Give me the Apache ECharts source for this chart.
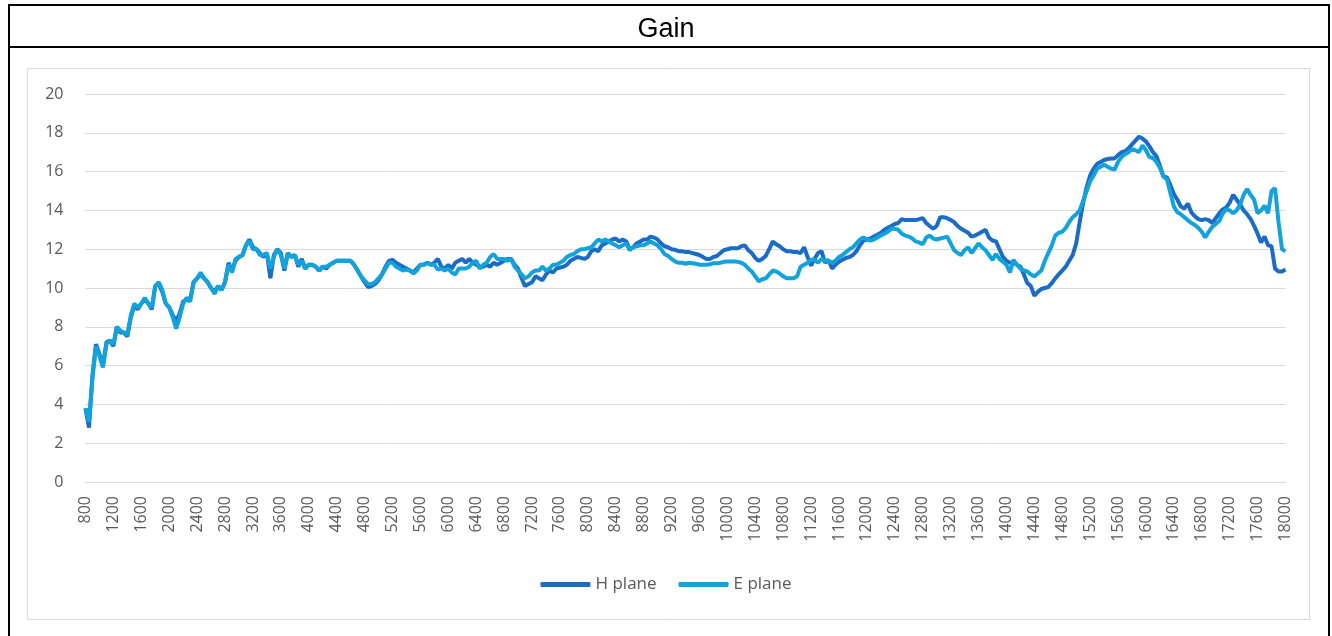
<!DOCTYPE html>
<html>
<head>
<meta charset="utf-8">
<script src="https://cdn.jsdelivr.net/npm/echarts@6/dist/echarts.min.js"></script>
<style>
html,body{margin:0;padding:0;background:#fff;}
#c{width:1332px;height:636px;}
</style>
</head>
<body>
<div id="c"></div>
<script>
// Frequency categories (MHz), 50 MHz step from 800 to 18000
const freqStart = 800, freqEnd = 18000, freqStep = 50;
const categories = [];
for (let f = freqStart; f <= freqEnd; f += freqStep) categories.push(String(f));

const seriesNames = ['H plane', 'E plane'];
const titleText = 'Gain';

// H plane gain (dBi), one row per 1000 MHz starting at 800, 1800, ...
const hPlane = [
  3.8, 2.8, 5.5, 7.1, 6.6, 6.0, 7.2, 7.3, 7.0, 8.0, 7.7, 7.7, 7.5, 8.5, 9.1, 8.9, 9.2, 9.4, 9.2, 8.9,
  10.1, 10.2, 9.8, 9.2, 9.0, 8.6, 8.3, 8.7, 9.3, 9.4, 9.4, 10.3, 10.5, 10.7, 10.5, 10.3, 10.0, 9.8, 10.1, 9.9,
  10.3, 11.3, 10.9, 11.4, 11.6, 11.7, 12.2, 12.5, 12.1, 12.0, 11.8, 11.6, 11.8, 10.5, 11.7, 12.0, 11.8, 10.9, 11.8, 11.6,
  11.7, 11.1, 11.5, 11.0, 11.2, 11.2, 11.1, 10.9, 11.1, 11.0, 11.2, 11.3, 11.4, 11.4, 11.4, 11.4, 11.4, 11.2, 10.9, 10.6,
  10.3, 10.05, 10.1, 10.2, 10.4, 10.7, 11.1, 11.4, 11.45, 11.3, 11.2, 11.1, 11.0, 10.9, 10.8, 11.0, 11.2, 11.2, 11.3, 11.2,
  11.3, 11.5, 11.1, 11.0, 11.2, 11.0, 11.3, 11.4, 11.5, 11.3, 11.5, 11.3, 11.2, 11.1, 11.1, 11.2, 11.1, 11.3, 11.2, 11.3,
  11.4, 11.5, 11.5, 11.2, 11.0, 10.5, 10.1, 10.2, 10.3, 10.6, 10.5, 10.4, 10.7, 10.9, 10.8, 11.0, 11.05, 11.1, 11.2, 11.4,
  11.5, 11.6, 11.55, 11.5, 11.6, 11.9, 12.0, 11.9, 12.2, 12.3, 12.4, 12.5, 12.55, 12.4, 12.5, 12.4, 12.0, 12.1, 12.3, 12.4,
  12.5, 12.5, 12.65, 12.6, 12.5, 12.3, 12.15, 12.1, 12.0, 11.97, 11.9, 11.9, 11.85, 11.85, 11.8, 11.75, 11.7, 11.6, 11.5, 11.5,
  11.6, 11.65, 11.8, 11.95, 12.0, 12.05, 12.05, 12.05, 12.15, 12.2, 11.95, 11.8, 11.55, 11.4, 11.5, 11.65, 12.0, 12.4, 12.25, 12.15,
  12.0, 11.9, 11.9, 11.85, 11.85, 11.8, 12.1, 11.6, 11.15, 11.5, 11.8, 11.9, 11.3, 11.45, 11.0, 11.2, 11.35, 11.45, 11.55, 11.6,
  11.7, 11.9, 12.2, 12.45, 12.5, 12.55, 12.65, 12.75, 12.85, 13.0, 13.1, 13.2, 13.3, 13.35, 13.55, 13.5, 13.5, 13.5, 13.5, 13.55,
  13.6, 13.35, 13.2, 13.05, 13.2, 13.65, 13.65, 13.6, 13.5, 13.4, 13.2, 13.05, 12.95, 12.85, 12.65, 12.7, 12.8, 12.9, 13.0, 12.6,
  12.45, 12.4, 12.0, 11.6, 11.4, 11.3, 11.3, 11.2, 11.1, 10.7, 10.25, 10.1, 9.6, 9.8, 9.95, 10.0, 10.05, 10.25, 10.5, 10.7,
  10.9, 11.1, 11.4, 11.7, 12.3, 13.4, 14.4, 15.2, 15.8, 16.15, 16.4, 16.5, 16.6, 16.65, 16.68, 16.68, 16.85, 17.0, 17.05, 17.2,
  17.4, 17.6, 17.8, 17.7, 17.55, 17.3, 17.0, 16.8, 16.3, 15.75, 15.7, 15.3, 14.85, 14.55, 14.2, 14.1, 14.35, 13.9, 13.7, 13.55,
  13.5, 13.55, 13.5, 13.35, 13.6, 13.85, 14.05, 14.15, 14.4, 14.8, 14.55, 14.3, 14.0, 13.8, 13.55, 13.2, 12.8, 12.35, 12.65, 12.2,
  12.15, 11.0, 10.85, 10.85, 10.95
];

// E plane gain (dBi)
const ePlane = [
  3.8, 3.1, 5.4, 7.0, 6.5, 5.9, 7.1, 7.3, 7.1, 8.0, 7.8, 7.7, 7.6, 8.6, 9.2, 9.0, 9.2, 9.5, 9.2, 9.0,
  10.1, 10.3, 9.9, 9.2, 9.0, 8.5, 7.9, 8.5, 9.2, 9.5, 9.3, 10.3, 10.5, 10.8, 10.5, 10.3, 10.0, 9.7, 10.1, 9.9,
  10.3, 11.2, 10.8, 11.5, 11.6, 11.7, 12.2, 12.4, 12.0, 12.0, 11.7, 11.7, 11.8, 11.0, 11.6, 12.0, 11.7, 11.0, 11.8, 11.6,
  11.7, 11.2, 11.4, 11.0, 11.2, 11.2, 11.1, 10.9, 11.1, 11.1, 11.2, 11.3, 11.4, 11.4, 11.4, 11.4, 11.4, 11.2, 10.9, 10.6,
  10.4, 10.2, 10.2, 10.3, 10.5, 10.7, 11.0, 11.3, 11.3, 11.1, 11.0, 10.9, 10.95, 10.9, 10.75, 10.9, 11.2, 11.2, 11.3, 11.2,
  11.2, 10.95, 11.0, 10.9, 11.0, 10.8, 10.7, 11.0, 11.0, 11.0, 11.1, 11.3, 11.4, 11.0, 11.2, 11.3, 11.6, 11.75, 11.5, 11.5,
  11.5, 11.4, 11.5, 11.1, 10.9, 10.7, 10.5, 10.6, 10.8, 10.9, 10.9, 11.1, 10.9, 11.0, 11.2, 11.2, 11.3, 11.4, 11.6, 11.7,
  11.75, 11.9, 12.0, 12.0, 12.05, 12.1, 12.3, 12.5, 12.4, 12.5, 12.4, 12.3, 12.2, 12.1, 12.2, 12.3, 11.95, 12.1, 12.15, 12.2,
  12.2, 12.3, 12.4, 12.3, 12.2, 12.0, 11.75, 11.65, 11.5, 11.37, 11.3, 11.3, 11.25, 11.3, 11.28, 11.25, 11.2, 11.2, 11.2, 11.22,
  11.28, 11.28, 11.3, 11.35, 11.37, 11.37, 11.37, 11.35, 11.3, 11.2, 11.0, 10.85, 10.6, 10.35, 10.45, 10.5, 10.7, 10.9, 10.85, 10.75,
  10.6, 10.5, 10.5, 10.5, 10.6, 11.1, 11.2, 11.3, 11.45, 11.45, 11.3, 11.5, 11.4, 11.4, 11.3, 11.4, 11.6, 11.7, 11.85, 12.0,
  12.1, 12.3, 12.5, 12.6, 12.5, 12.45, 12.5, 12.6, 12.7, 12.8, 12.9, 13.05, 13.05, 13.0, 12.8, 12.7, 12.65, 12.55, 12.4, 12.35,
  12.25, 12.6, 12.7, 12.55, 12.5, 12.55, 12.6, 12.65, 12.3, 11.95, 11.8, 11.7, 11.95, 12.1, 11.8, 12.05, 12.3, 12.1, 11.95, 11.7,
  11.45, 11.75, 11.5, 11.35, 11.2, 10.8, 11.45, 11.2, 11.0, 10.9, 10.85, 10.7, 10.6, 10.75, 10.9, 11.4, 11.8, 12.2, 12.7, 12.85,
  12.9, 13.1, 13.4, 13.65, 13.8, 14.0, 14.5, 15.0, 15.5, 15.8, 16.15, 16.25, 16.35, 16.25, 16.15, 16.1, 16.5, 16.75, 16.9, 17.0,
  17.15, 17.1, 17.0, 17.35, 17.1, 16.75, 16.7, 16.5, 16.2, 15.75, 15.6, 14.9, 14.2, 13.9, 13.8, 13.65, 13.5, 13.35, 13.25, 13.1,
  12.9, 12.6, 12.9, 13.15, 13.3, 13.45, 13.85, 14.05, 14.0, 13.85, 14.0, 14.3, 14.8, 15.1, 14.8, 14.55, 13.85, 14.0, 14.25, 13.85,
  15.0, 15.15, 13.4, 12.0, 11.9
];

const yMin = 0, yMax = 20, yStep = 2;
const colors = ['#1a6cc6', '#12a2dc'];
const labelColor = '#595959';
const gridColor = '#d9d9d9';

const chart = echarts.init(document.getElementById('c'), null, {renderer: 'canvas'});
chart.setOption({
  animation: false,
  backgroundColor: '#ffffff',
  color: colors,
  title: {
    text: titleText,
    left: 'center',
    top: 11,
    textStyle: {fontFamily: 'Liberation Sans', fontSize: 27, fontWeight: 'normal', color: '#000'}
  },
  graphic: [
    {type: 'rect', shape: {x: 9, y: 5, width: 1320, height: 650}, style: {fill: 'none', stroke: '#000', lineWidth: 2}, z: 100},
    {type: 'line', shape: {x1: 9, y1: 47, x2: 1329, y2: 47}, style: {stroke: '#000', lineWidth: 2}, z: 100},
    {type: 'rect', shape: {x: 27.5, y: 68.5, width: 1282, height: 551}, style: {fill: 'none', stroke: gridColor, lineWidth: 1}, z: 0}
  ],
  legend: {
    data: seriesNames,
    bottom: 38,
    left: 'center',
    icon: 'roundRect',
    itemWidth: 50,
    itemHeight: 5,
    itemGap: 22,
    textStyle: {fontFamily: 'Open Sans', fontSize: 17, color: labelColor}
  },
  grid: {left: 85.5, right: 46.5, top: 94, bottom: 154, containLabel: false},
  xAxis: {
    type: 'category',
    data: categories,
    boundaryGap: false,
    axisLine: {lineStyle: {color: gridColor}},
    axisTick: {show: false},
    axisLabel: {interval: 7, rotate: 90, margin: 14, fontFamily: 'Open Sans', fontSize: 16, color: labelColor},
    splitLine: {show: false}
  },
  yAxis: {
    type: 'value',
    min: yMin, max: yMax, interval: yStep,
    axisLine: {show: false},
    axisTick: {show: false},
    axisLabel: {margin: 22, fontFamily: 'Open Sans', fontSize: 16, color: labelColor},
    splitLine: {lineStyle: {color: gridColor, width: 1}}
  },
  series: [
    {name: seriesNames[0], type: 'line', data: hPlane, symbol: 'none', lineStyle: {width: 4, color: colors[0]}, itemStyle: {color: colors[0]}},
    {name: seriesNames[1], type: 'line', data: ePlane, symbol: 'none', lineStyle: {width: 4, color: colors[1]}, itemStyle: {color: colors[1]}}
  ]
});
</script>
</body>
</html>
